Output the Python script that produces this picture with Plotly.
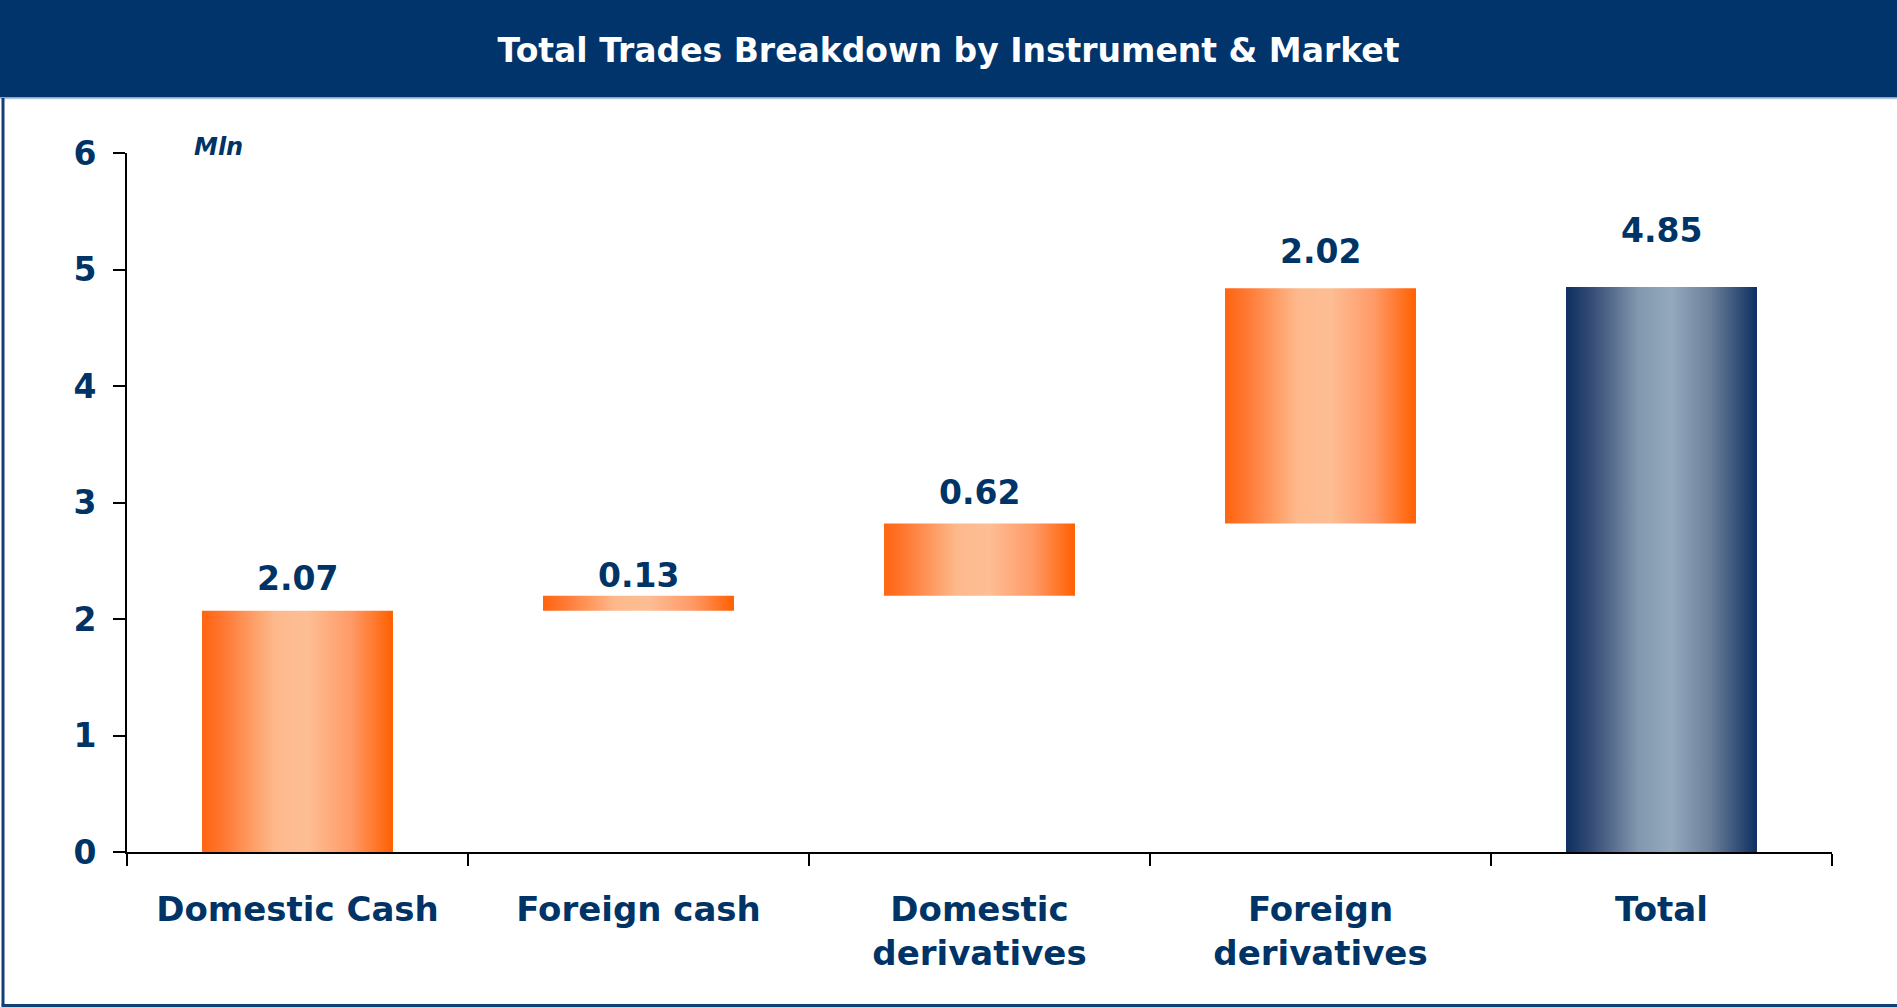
import plotly.graph_objects as go

# ---- data ----
categories = ["Domestic Cash", "Foreign cash", "Domestic<br>derivatives", "Foreign<br>derivatives", "Total"]
components = [2.07, 0.13, 0.62, 2.02]
total_value = 4.85
y_ticks = [0, 1, 2, 3, 4, 5, 6]

# ---- style ----
W, H = 1897, 1007
ML, MR, MT, MB = 127, 65, 153, 155
NAVY = "#003366"
FONT = "DejaVu Sans"
BAR_W = 0.56
orange_scale = [[0.0, "#FF6410"], [0.12, "#FF7A35"], [0.38, "#FDB98C"], [0.55, "#FDBE94"], [0.78, "#FF9A68"], [1.0, "#FF6000"]]
navy_scale = [[0.0, "#0D2F60"], [0.15, "#3A5078"], [0.38, "#8298AF"], [0.55, "#94A9BD"], [0.75, "#6E829C"], [1.0, "#0D2F60"]]
label_yshift = [11, -1, 9, 15, 35]

fig = go.Figure()

# waterfall bases computed from data
bases = []
acc = 0.0
for v in components:
    bases.append(acc)
    acc += v
bars = [(b, b + v, orange_scale) for b, v in zip(bases, components)] + [(0.0, total_value, navy_scale)]
values = components + [total_value]

for i, (b0, b1, cs) in enumerate(bars):
    c = i + 0.5
    xs = [c - BAR_W / 2, c + BAR_W / 2, c + BAR_W / 2, c - BAR_W / 2, c - BAR_W / 2]
    ys = [b0, b0, b1, b1, b0]
    fig.add_trace(go.Scatter(
        x=xs, y=ys, mode="lines", fill="toself",
        line=dict(width=0, color="rgba(0,0,0,0)"),
        fillgradient=dict(type="horizontal", colorscale=cs),
        hoverinfo="skip", showlegend=False,
    ))
    fig.add_annotation(
        x=c, y=b1, xref="x", yref="y", text=f"{values[i]:.2f}",
        showarrow=False, yanchor="bottom", yshift=label_yshift[i],
        font=dict(family=FONT, size=33, color=NAVY, weight="bold"),
    )

fig.add_annotation(
    x=0.19, y=6, xref="x", yref="y", text="<i>Mln</i>", showarrow=False,
    xanchor="left", yanchor="bottom", yshift=-10,
    font=dict(family=FONT, size=24, color=NAVY, weight="bold"),
)

pw = W - ML - MR
ph = H - MT - MB
def px_x(px):
    return (px - ML) / pw
def px_y(py):
    return (H - MB - py) / ph

shapes = [
    dict(type="rect", xref="paper", yref="paper", x0=px_x(0), x1=px_x(W), y0=px_y(97.5), y1=px_y(0),
         fillcolor="#00346A", line=dict(width=0), layer="below"),
    dict(type="line", xref="paper", yref="paper", x0=px_x(0), x1=px_x(W), y0=px_y(98.5), y1=px_y(98.5),
         line=dict(color="#B7C8DD", width=1.5)),
    dict(type="line", xref="paper", yref="paper", x0=px_x(3), x1=px_x(3), y0=px_y(98), y1=px_y(1005.5),
         line=dict(color="#123F75", width=3)),
    dict(type="line", xref="paper", yref="paper", x0=px_x(1.5), x1=px_x(W), y0=px_y(1005.5), y1=px_y(1005.5),
         line=dict(color="#123F75", width=3)),
]

fig.update_layout(
    width=W, height=H,
    margin=dict(l=ML, r=MR, t=MT, b=MB),
    paper_bgcolor="white", plot_bgcolor="white",
    shapes=shapes,
    title=dict(text="Total Trades Breakdown by Instrument & Market", x=0.5, xref="container", xanchor="center",
               y=1 - 50 / H, yref="container", yanchor="middle",
               font=dict(family=FONT, size=33, color="white", weight="bold")),
    xaxis=dict(range=[0, 5], tickvals=[i + 0.5 for i in range(len(categories))], ticktext=categories,
               ticks="", showline=True, linecolor="black", linewidth=2, showgrid=False, zeroline=False,
               tickfont=dict(family=FONT, size=34, color=NAVY, weight="bold"), ticklabelstandoff=26,
               minor=dict(tickvals=list(range(len(categories) + 1)), ticks="outside", ticklen=12,
                          tickwidth=2, tickcolor="black", showgrid=False),
               fixedrange=True),
    yaxis=dict(range=[0, 6], tickvals=y_ticks, ticks="outside", ticklen=12, tickwidth=2, tickcolor="black",
               showline=True, linecolor="black", linewidth=2, showgrid=False, zeroline=False,
               tickfont=dict(family=FONT, size=33, color=NAVY, weight="bold"), ticklabelstandoff=10,
               fixedrange=True),
)

fig.write_html("out.html", config={"displayModeBar": False},
               post_script="document.body.style.margin='0';document.body.style.overflow='hidden';")
